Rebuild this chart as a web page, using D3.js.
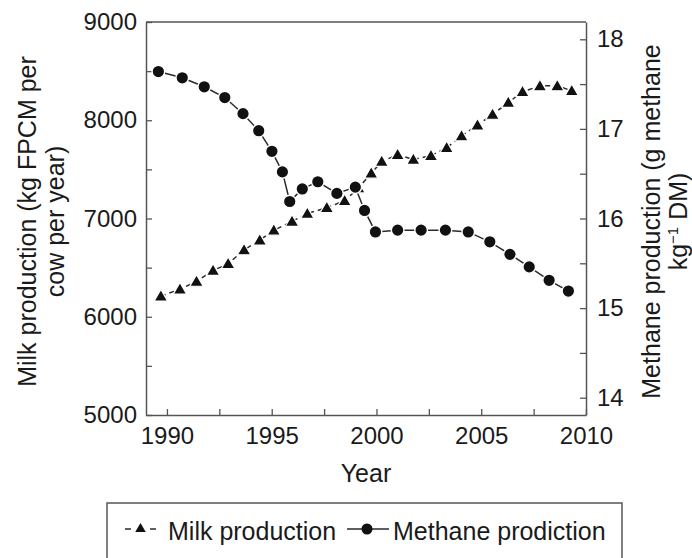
<!DOCTYPE html>
<html>
<head>
<meta charset="utf-8">
<script src="https://cdn.jsdelivr.net/npm/d3@7/dist/d3.min.js"></script>
<style>
  html, body { margin: 0; padding: 0; background: #fff; }
  svg { display: block; font-family: "Liberation Sans", Arial, Helvetica, sans-serif; }
</style>
</head>
<body>
<svg id="chart" width="692" height="558"></svg>
<script>
// Milk production per cow (kg FPCM per cow per year)
const milkYears = [1989.71, 1990.62, 1991.41, 1992.20, 1992.92, 1993.68, 1994.43, 1995.10, 1995.97,
  1996.70, 1997.63, 1998.48, 1999.14, 1999.75, 2000.25, 2001.01, 2001.76, 2002.60, 2003.35,
  2004.06, 2004.82, 2005.54, 2006.29, 2006.97, 2007.80, 2008.63, 2009.32];
const milkValues = [6210, 6280, 6360, 6470, 6540, 6680, 6780, 6880, 6970,
  7050, 7110, 7180, 7310, 7460, 7580, 7650, 7600, 7640, 7720,
  7840, 7950, 8060, 8180, 8290, 8350, 8350, 8300];

// Methane production (g methane per kg DM)
const methaneYears = [1989.59, 1990.73, 1991.78, 1992.76, 1993.63, 1994.38, 1995.01, 1995.51,
  1995.86, 1996.46, 1997.20, 1998.11, 1998.99, 1999.43, 1999.95, 2001.01, 2002.13, 2003.29,
  2004.38, 2005.41, 2006.37, 2007.29, 2008.24, 2009.16];
const methaneValues = [17.64, 17.57, 17.47, 17.35, 17.17, 16.98, 16.75, 16.52,
  16.19, 16.33, 16.41, 16.28, 16.35, 16.09, 15.85, 15.87, 15.87, 15.87,
  15.85, 15.74, 15.60, 15.46, 15.31, 15.19];

// Tick values
const xTicks = [1990, 1992.5, 1995, 1997.5, 2000, 2002.5, 2005, 2007.5, 2010];
const xTickLabels = [1990, 1995, 2000, 2005, 2010];
const milkTicks = [5000, 5500, 6000, 6500, 7000, 7500, 8000, 8500, 9000];
const milkTickLabels = [5000, 6000, 7000, 8000, 9000];
const methaneTicks = [14, 14.5, 15, 15.5, 16, 16.5, 17, 17.5, 18];
const methaneTickLabels = [14, 15, 16, 17, 18];

const legendLabels = ["Milk production", "Methane prodiction"];

const svg = d3.select("#chart");
const frame = "#555";
const ink = "#1a1a1a";
const tickFont = 24;
const textFont = 25;

const plot = { left: 146, right: 586, top: 22, bottom: 415 };

const x = d3.scaleLinear().domain([1989, 2010]).range([plot.left, plot.right]);
const yMilk = d3.scaleLinear().domain([5000, 9000]).range([plot.bottom, plot.top]);
const yMeth = d3.scaleLinear().domain([13.807, 18.193]).range([plot.bottom, plot.top]);

function styleAxis(g) {
  g.selectAll("path.domain").attr("stroke", frame).attr("stroke-width", 1.5);
  g.selectAll(".tick line").attr("stroke", frame).attr("stroke-width", 1.3);
  g.selectAll(".tick text").attr("fill", ink).style("font-size", tickFont + "px")
    .style("font-family", "'Liberation Sans', Arial, Helvetica, sans-serif");
}

// Bottom axis
svg.append("g")
  .attr("transform", `translate(0,${plot.bottom})`)
  .call(d3.axisBottom(x).tickValues(xTicks).tickSizeInner(-6).tickSizeOuter(0).tickPadding(12)
    .tickFormat(d => xTickLabels.includes(d) ? d3.format("d")(d) : ""))
  .call(styleAxis)
  .call(g => g.selectAll(".tick text").attr("dy", "0.71em"));

// Left axis
svg.append("g")
  .attr("transform", `translate(${plot.left},0)`)
  .call(d3.axisLeft(yMilk).tickValues(milkTicks).tickSizeInner(-6).tickSizeOuter(0).tickPadding(9)
    .tickFormat(d => milkTickLabels.includes(d) ? d3.format("d")(d) : ""))
  .call(styleAxis);

// Right axis
svg.append("g")
  .attr("transform", `translate(${plot.right},0)`)
  .call(d3.axisRight(yMeth).tickValues(methaneTicks).tickSizeInner(-6).tickSizeOuter(0).tickPadding(11)
    .tickFormat(d => methaneTickLabels.includes(d) ? d3.format("d")(d) : ""))
  .call(styleAxis);

// Top border
svg.append("line")
  .attr("x1", plot.left).attr("x2", plot.right)
  .attr("y1", plot.top).attr("y2", plot.top)
  .attr("stroke", frame).attr("stroke-width", 1.5);

// Axis titles
svg.append("text")
  .attr("x", x(1999.5)).attr("y", 482)
  .attr("text-anchor", "middle").attr("fill", ink).style("font-size", textFont + "px")
  .text("Year");

const leftTitle = svg.append("text")
  .attr("transform", `translate(0,${(plot.top + plot.bottom) / 2 + 3}) rotate(-90)`)
  .attr("text-anchor", "middle").attr("fill", ink).style("font-size", textFont + "px");
leftTitle.append("tspan").attr("x", 0).attr("y", 36).text("Milk production (kg FPCM per");
leftTitle.append("tspan").attr("x", 0).attr("y", 64).text("cow per year)");

const rightTitle = svg.append("text")
  .attr("transform", `translate(0,${(plot.top + plot.bottom) / 2 + 3}) rotate(-90)`)
  .attr("text-anchor", "middle").attr("fill", ink).style("font-size", textFont + "px");
rightTitle.append("tspan").attr("x", 0).attr("y", 660).text("Methane production (g methane");
const l2 = rightTitle.append("tspan").attr("x", 0).attr("y", 687);
l2.append("tspan").text("kg");
l2.append("tspan").attr("dy", -9).style("font-size", "15px").text("\u22121");
l2.append("tspan").attr("dy", 9).text(" DM)");

// Series
const milkData = milkYears.map((yr, i) => ({ x: yr, y: milkValues[i] }));
const methData = methaneYears.map((yr, i) => ({ x: yr, y: methaneValues[i] }));

const triangle = d3.symbol().type(d3.symbolTriangle).size(78);

svg.append("path")
  .datum(milkData)
  .attr("fill", "none").attr("stroke", "#2a2a2a").attr("stroke-width", 1.5)
  .attr("stroke-dasharray", "5,4")
  .attr("d", d3.line().x(d => x(d.x)).y(d => yMilk(d.y)));

svg.append("g").selectAll("path")
  .data(milkData).join("path")
  .attr("transform", d => `translate(${x(d.x)},${yMilk(d.y) + 1})`)
  .attr("d", triangle)
  .attr("fill", "#111").attr("stroke", "#fff").attr("stroke-width", 1.2);

svg.append("path")
  .datum(methData)
  .attr("fill", "none").attr("stroke", "#2a2a2a").attr("stroke-width", 1.5)
  .attr("d", d3.line().x(d => x(d.x)).y(d => yMeth(d.y)));

svg.append("g").selectAll("circle")
  .data(methData).join("circle")
  .attr("cx", d => x(d.x)).attr("cy", d => yMeth(d.y)).attr("r", 6.3)
  .attr("fill", "#111").attr("stroke", "#fff").attr("stroke-width", 1.4);

// Legend
svg.append("rect")
  .attr("x", 107).attr("y", 503).attr("width", 515).attr("height", 80)
  .attr("fill", "none").attr("stroke", frame).attr("stroke-width", 1.5);

const legY = 529;
[[125, 131], [150, 156]].forEach(([a, b]) => {
  svg.append("line").attr("x1", a).attr("x2", b).attr("y1", legY).attr("y2", legY)
    .attr("stroke", "#2a2a2a").attr("stroke-width", 1.5);
});
svg.append("path").attr("transform", `translate(140.5,${legY})`)
  .attr("d", d3.symbol().type(d3.symbolTriangle).size(48)).attr("fill", "#111");
svg.append("text").attr("x", 168).attr("y", 540).attr("fill", ink)
  .style("font-size", textFont + "px").text(legendLabels[0]);

svg.append("line").attr("x1", 347).attr("x2", 389).attr("y1", legY).attr("y2", legY)
  .attr("stroke", "#2a2a2a").attr("stroke-width", 1.5);
svg.append("circle").attr("cx", 367).attr("cy", legY).attr("r", 5.5).attr("fill", "#111");
svg.append("text").attr("x", 393).attr("y", 540).attr("fill", ink)
  .style("font-size", textFont + "px").text(legendLabels[1]);
</script>
</body>
</html>
